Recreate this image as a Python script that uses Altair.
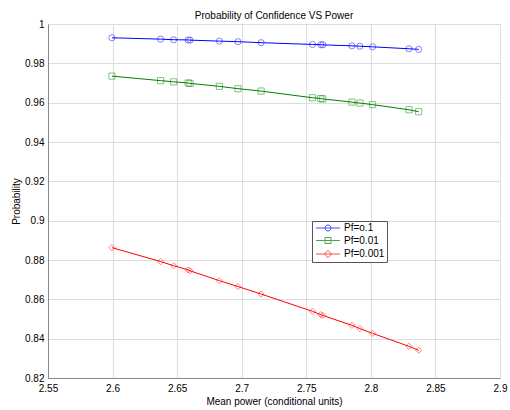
import altair as alt
import pandas as pd

# Data
mean_power = [2.5995, 2.6372, 2.6473, 2.6585, 2.6600, 2.6827, 2.6971, 2.7150,
              2.7548, 2.7612, 2.7628, 2.7853, 2.7915, 2.8013, 2.8295, 2.8370]
pf_01 = [0.9930, 0.9923, 0.9920, 0.9919, 0.9918, 0.9913, 0.9910, 0.9905,
         0.9896, 0.9895, 0.9894, 0.9889, 0.9887, 0.9884, 0.9874, 0.9871]
pf_001 = [0.9735, 0.9712, 0.9706, 0.9700, 0.9698, 0.9683, 0.9671, 0.9659,
          0.9625, 0.9621, 0.9619, 0.9603, 0.9598, 0.9590, 0.9564, 0.9554]
pf_0001 = [0.8863, 0.8792, 0.8771, 0.8750, 0.8745, 0.8695, 0.8665, 0.8627,
           0.8539, 0.8522, 0.8518, 0.8468, 0.8451, 0.8427, 0.8361, 0.8341]

series_names = ["Pf=o.1", "Pf=0.01", "Pf=0.001"]
series_colors = ["#0000ff", "#008000", "#ff0000"]
marker_shapes = ["circle", "square", "diamond"]
legend_shapes = [
    "M-4,0L4,0M1,0A1,1,0,1,1,-1,0A1,1,0,1,1,1,0",
    "M-4,0L4,0M-1,-1L1,-1L1,1L-1,1Z",
    "M-4,0L4,0M0,-1.2L1.2,0L0,1.2L-1.2,0Z",
]
x_ticks = [2.55, 2.6, 2.65, 2.7, 2.75, 2.8, 2.85, 2.9]
y_ticks = [0.82, 0.84, 0.86, 0.88, 0.9, 0.92, 0.94, 0.96, 0.98, 1.0]

rows = []
for name, vals in zip(series_names, [pf_01, pf_001, pf_0001]):
    for xv, yv in zip(mean_power, vals):
        rows.append({"power": xv, "prob": yv, "series": name})
df = pd.DataFrame(rows)

FONT = "Liberation Sans"

x_enc = alt.X("power:Q", scale=alt.Scale(domain=[2.55, 2.9], nice=False, zero=False),
              axis=alt.Axis(values=x_ticks, tickCount=20, format="~g",
                            title="Mean power (conditional units)",
                            grid=True, ticks=False, labelPadding=5, titlePadding=3,
                            labelOverlap=False, labelFlush=False,
                            titleFontWeight="normal", titleFont=FONT, titleFontSize=10))
y_enc = alt.Y("prob:Q", scale=alt.Scale(domain=[0.82, 1.0], nice=False, zero=False),
              axis=alt.Axis(values=y_ticks, tickCount=20, format="~g", title="Probability",
                            grid=True, ticks=False, labelPadding=4, titlePadding=3,
                            labelOverlap=False, labelFlush=False,
                            titleFontWeight="normal", titleFont=FONT, titleFontSize=10))

color_main = alt.Color("series:N", scale=alt.Scale(domain=series_names, range=series_colors),
                       legend=None)

lines = alt.Chart(df).mark_line(strokeWidth=1).encode(
    x=x_enc, y=y_enc, color=color_main, detail="series:N")

points = alt.Chart(df).mark_point(filled=False, size=38, strokeWidth=0.8, opacity=0.6).encode(
    x="power:Q", y="prob:Q",
    color=alt.Color("series:N", scale=alt.Scale(domain=series_names, range=series_colors), legend=None),
    shape=alt.Shape("series:N", scale=alt.Scale(domain=series_names, range=marker_shapes), legend=None),
)

legend_def = alt.Legend(title=None, orient="none", legendX=264, legendY=197,
                        strokeColor="#555", fillColor="white", padding=2,
                        labelFontSize=10, labelFont=FONT, labelColor="black",
                        symbolSize=36, symbolStrokeWidth=1, symbolOffset=9,
                        labelOffset=11, rowPadding=2.5, cornerRadius=0)

legend_layer = alt.Chart(df).transform_filter("false").mark_point(filled=False).encode(
    x="power:Q", y="prob:Q",
    color=alt.Color("series:N", scale=alt.Scale(domain=series_names, range=series_colors),
                    legend=legend_def, sort=series_names),
    shape=alt.Shape("series:N", scale=alt.Scale(domain=series_names, range=legend_shapes),
                    legend=legend_def, sort=series_names),
)

chart = alt.layer(lines, points, legend_layer).resolve_scale(
    color="independent", shape="independent"
).properties(
    width=452, height=354,
    title=alt.Title("Probability of Confidence VS Power", fontSize=10, font=FONT,
                    fontWeight="normal", color="black", offset=7, dy=9),
    autosize=alt.AutoSizeParams(type="none"),
    padding={"left": 48, "top": 24, "right": 10, "bottom": 32},
).configure_view(stroke="#444", strokeWidth=1).configure_axis(
    labelFont=FONT, labelFontSize=10, labelColor="black",
    titleFont=FONT, titleFontSize=10, titleFontWeight="normal", titleColor="black",
    gridColor="#999", gridDash=[1, 2], gridWidth=0.8, domain=False,
).configure(background="white")

chart.save("out.html", embed_options={"renderer": "svg", "actions": False})
